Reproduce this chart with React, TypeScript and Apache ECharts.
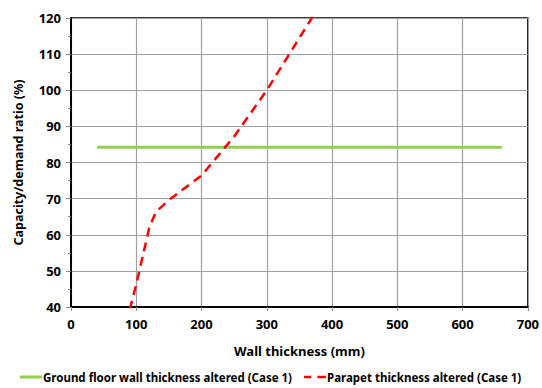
import React, { useEffect, useRef } from "react";
import * as echarts from "echarts";

const groundX = [40, 100, 200, 300, 400, 500, 600, 660];
const groundY = [84.2, 84.2, 84.2, 84.2, 84.2, 84.2, 84.2, 84.2];
const parapetX = [90, 100, 120, 130, 150, 200, 250, 300, 350, 400];
const parapetY = [39.3, 46.3, 62, 66.3, 69.6, 76.4, 87.2, 100, 114.5, 129];
const seriesNames = [
  "Ground floor wall thickness altered (Case 1)",
  "Parapet thickness altered (Case 1)",
];
const xTitle = "Wall thickness (mm)";
const yTitle = "Capacity/demand ratio (%)";

const FONT = "Noto Sans";

export default function App() {
  const ref = useRef<HTMLDivElement>(null);
  useEffect(() => {
    const chart = echarts.init(ref.current!, null, { renderer: "svg" });
    chart.setOption({
      animation: false,
      textStyle: { fontFamily: FONT },
      grid: {
        left: 71,
        right: 14,
        top: 18,
        bottom: 81,
        show: true,
        borderColor: "#000",
        borderWidth: 1.5,
      },
      xAxis: {
        type: "value",
        min: 0,
        max: 700,
        interval: 100,
        name: xTitle,
        nameLocation: "middle",
        nameGap: 37,
        nameTextStyle: { fontFamily: FONT, fontWeight: "bold", fontSize: 13, color: "#000" },
        axisLine: { show: true, lineStyle: { color: "#000", width: 2 } },
        axisTick: { show: true, length: 4, lineStyle: { color: "#888" } },
        axisLabel: { fontFamily: FONT, fontWeight: "bold", fontSize: 13, color: "#000", margin: 10 },
        splitLine: { show: true, lineStyle: { color: "#a0a0a0", width: 1.2 } },
      },
      yAxis: {
        type: "value",
        min: 40,
        max: 120,
        interval: 10,
        name: yTitle,
        nameLocation: "middle",
        nameGap: 46,
        nameTextStyle: { fontFamily: FONT, fontWeight: "bold", fontSize: 12.5, color: "#000" },
        axisLine: { show: true, lineStyle: { color: "#000", width: 2 } },
        axisTick: { show: true, length: 5, lineStyle: { color: "#888" } },
        minorTick: { show: true, splitNumber: 2, length: 3, lineStyle: { color: "#888" } },
        axisLabel: { fontFamily: FONT, fontWeight: "bold", fontSize: 13, color: "#000", margin: 10 },
        splitLine: { show: true, lineStyle: { color: "#a0a0a0", width: 1.2 } },
      },
      legend: {
        left: 15,
        top: 366,
        itemWidth: 22,
        itemHeight: 3,
        itemGap: 12,
        textStyle: { fontFamily: FONT, fontWeight: "bold", fontSize: 11.5, color: "#000", padding: [0, 0, 0, -4] },
        data: [
          { name: seriesNames[0], icon: "rect" },
          { name: seriesNames[1], icon: "path://M0,0h6v2h-6z M11,0h7v2h-7z" },
        ],
      },
      series: [
        {
          name: seriesNames[0],
          type: "line",
          symbol: "none",
          data: groundX.map((x, i) => [x, groundY[i]]),
          lineStyle: { color: "#92d050", width: 3 },
          itemStyle: { color: "#92d050" },
        },
        {
          name: seriesNames[1],
          type: "line",
          symbol: "none",
          clip: true,
          data: parapetX.map((x, i) => [x, parapetY[i]]),
          lineStyle: { color: "#ff0000", width: 2.5, type: [9, 6] },
          itemStyle: { color: "#ff0000" },
        },
      ],
    });
    return () => chart.dispose();
  }, []);
  return <div ref={ref} style={{ width: 542, height: 388, position: "absolute", left: 0, top: 0 }} />;
}
